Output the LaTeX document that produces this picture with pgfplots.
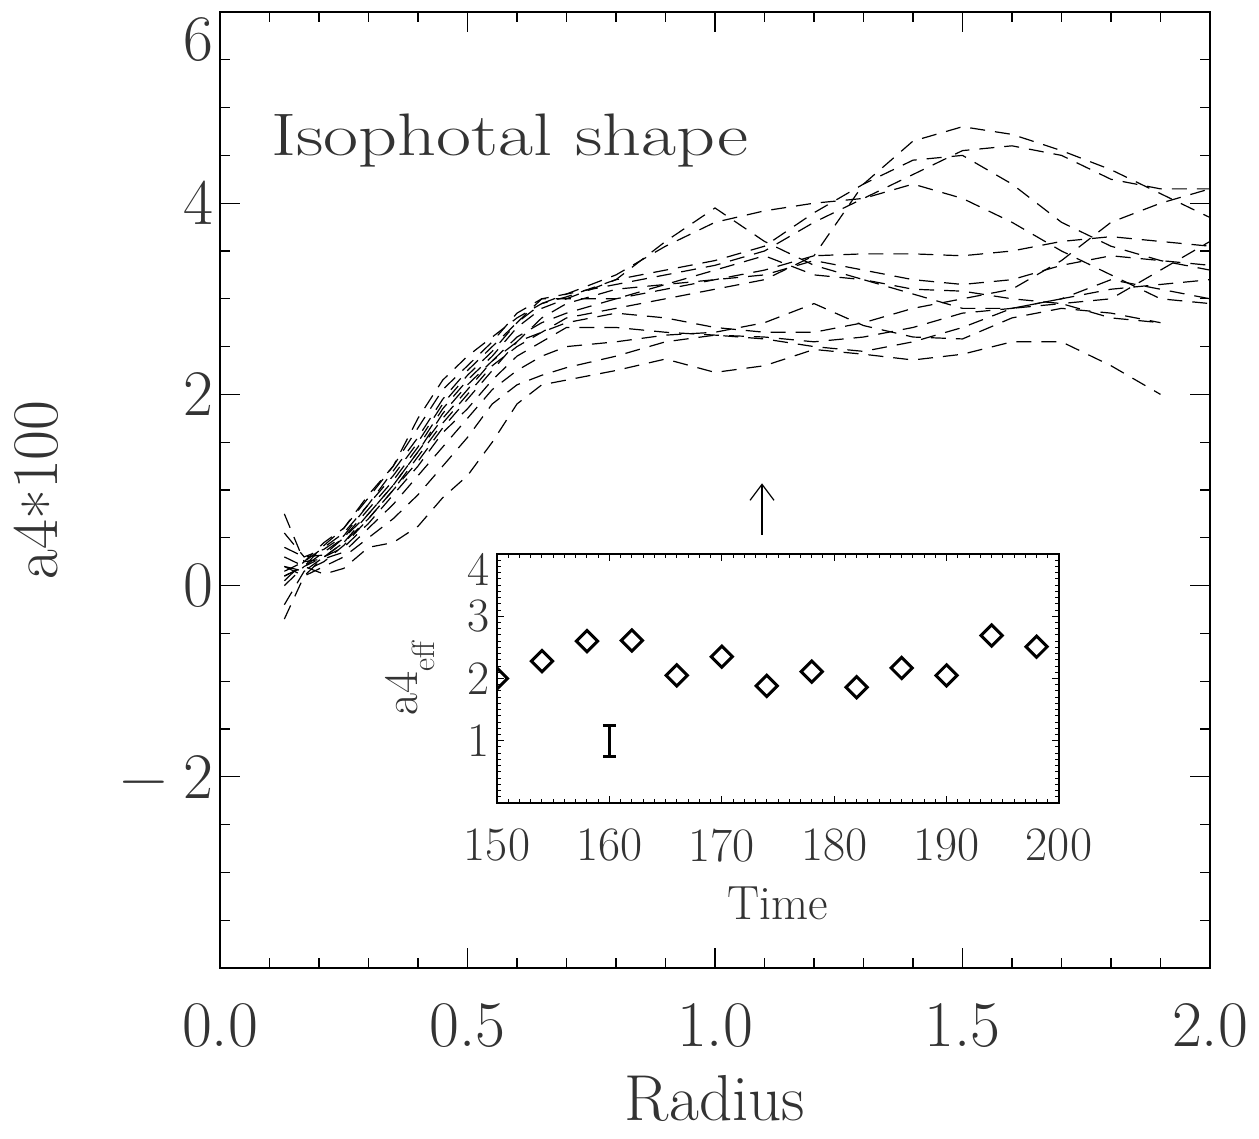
\documentclass[border=0pt]{standalone}
\usepackage{fontspec}
\usepackage{graphicx}
\usepackage{pgfplots}
\usepackage{pgfplotstable}
\pgfplotsset{compat=1.18}
\usetikzlibrary{arrows.meta}
\newcommand{\fmain}{\fontsize{32.5pt}{36pt}\selectfont}
\newcommand{\finset}{\fontsize{24pt}{28pt}\selectfont}
\newcommand{\fsub}{\fontsize{16pt}{18pt}\selectfont}
\newcommand{\fiso}{\fontsize{30pt}{34pt}\selectfont}

\pgfplotstableread{
r     c1    c2    c3    c4    c5    c6    c7    c8    c9    c10   c11   c12   c13
0.13  0.10 -0.35  0.75  0.00  0.20  0.40 -0.20  0.30  0.15  0.55  0.10  0.05  0.20
0.17  0.20  0.10  0.25  0.20  0.15  0.30  0.15  0.20  0.25  0.30  0.20  0.25  0.10
0.21  0.12  0.20  0.28  0.30  0.30  0.32  0.25  0.35  0.40  0.38  0.42  0.45  0.30
0.25  0.18  0.30  0.35  0.40  0.45  0.50  0.42  0.50  0.55  0.52  0.60  0.60  0.45
0.30  0.40  0.50  0.60  0.65  0.70  0.75  0.70  0.80  0.85  0.85  0.92  0.95  0.75
0.35  0.45  0.70  0.85  0.95  1.00  1.05  1.00  1.10  1.20  1.15  1.25  1.25  1.05
0.40  0.62  0.95  1.15  1.25  1.35  1.40  1.30  1.45  1.55  1.50  1.65  1.75  1.40
0.45  0.92  1.25  1.45  1.60  1.70  1.75  1.65  1.85  1.95  1.90  2.05  2.15  1.80
0.50  1.15  1.55  1.75  1.85  2.00  2.05  1.95  2.15  2.25  2.20  2.30  2.40  2.10
0.55  1.50  1.90  2.05  2.15  2.30  2.35  2.25  2.40  2.50  2.45  2.55  2.60  2.35
0.60  1.90  2.10  2.25  2.40  2.50  2.60  2.55  2.70  2.75  2.75  2.85  2.80  2.55
0.65  2.10  2.20  2.40  2.55  2.65  2.75  2.80  2.90  2.95  3.00  3.00  2.95  2.65
0.70  2.15  2.28  2.50  2.70  2.80  2.85  2.95  3.00  3.05  3.00  3.05  3.02  2.75
0.80  2.25  2.40  2.55  2.70  2.90  3.00  3.10  3.20  3.25  3.00  3.15  3.20  2.85
0.90  2.37  2.55  2.62  2.65  3.00  3.15  3.15  3.60  3.55  3.10  3.25  3.30  2.80
1.00  2.23  2.62  2.65  2.62  3.10  3.20  3.30  3.95  3.80  3.20  3.35  3.40  2.70
1.10  2.30  2.58  2.75  2.60  3.20  3.25  3.45  3.60  3.92  3.30  3.50  3.55  2.65
1.20  2.47  2.50  2.95  2.55  3.45  3.40  3.25  3.35  4.00  3.45  3.80  3.90  2.65
1.30  2.42  2.45  2.72  2.60  3.47  3.30  3.20  3.20  4.05  4.20  4.05  4.20  2.75
1.40  2.36  2.55  2.60  2.70  3.47  3.20  3.05  3.10  4.20  4.65  4.30  4.45  2.90
1.50  2.42  2.70  2.58  2.85  3.45  3.15  2.90  3.08  4.05  4.80  4.55  4.50  3.00
1.60  2.55  2.90  2.80  2.90  3.50  3.20  2.90  3.00  3.80  4.72  4.60  4.20  3.10
1.70  2.55  2.95  2.90  3.00  3.60  3.35  3.00  2.95  3.50  4.55  4.50  3.80  3.40
1.80  2.30  2.80  2.85  3.20  3.65  3.45  3.10  3.00  3.25  4.35  4.25  3.55  3.80
1.90  2.00  2.75  2.75  3.10  3.60  3.40  3.15  3.30  3.00  4.10  4.15  3.40  4.00
2.00  nan   nan   nan   3.00  3.55  3.35  3.20  3.60  2.95  3.85  4.15  3.30  4.15
}\curves

\begin{document}
\begin{tikzpicture}
\useasboundingbox (-110pt,-85.5pt) rectangle (519.5pt,484pt);
\begin{axis}[
  name=main, at={(0pt,0pt)}, anchor=south west,
  scale only axis, width=495pt, height=478pt,
  xmin=0, xmax=2, ymin=-4, ymax=6,
  xtick={0,0.5,1,1.5,2}, xticklabels={0.0,0.5,1.0,1.5,2.0},
  minor xtick={0,0.1,...,2},
  ytick={-4,-2,0,2,4,6}, yticklabels={,−\hspace{0.25em}2,0,2,4,\raisebox{-24.5pt}[0pt][0pt]{6}},
  minor ytick={-4,-3.5,...,6},
  tick align=inside,
  major tick length=10pt, minor tick length=5pt,
  every tick/.style={black, line width=0.6pt},
  axis line style={line width=0.75pt},
  ticklabel style={font=\fmain, text=black!80},
  xticklabel shift=14pt,
  xlabel={Radius}, ylabel={a4\raisebox{-0.2em}{*}100},
  xlabel style={at={(axis description cs:0.5,-0.1046)}, anchor=north, font=\fmain, text=black!80},
  ylabel style={at={(axis description cs:-0.1646,0.5)}, anchor=base, font=\fmain, text=black!80},
]
\pgfplotsinvokeforeach{c1,c2,c3,c4,c5,c6,c7,c8,c9,c10,c11,c12,c13}{
  \addplot[black, line width=0.6pt, dash pattern=on 7.5pt off 5pt] table[x=r, y=#1] {\curves};
}
\node[anchor=base west, inner sep=0pt, font=\fiso, text=black!80] at (axis cs:0.103,4.50) {\scalebox{1.27}[1]{Isophotal shape}};
\draw[black, line width=0.6pt, -{Straight Barb[length=8pt, width=12pt]}] (axis cs:1.095,0.53) -- (axis cs:1.095,1.07);
\end{axis}

\begin{axis}[
  at={(138.5pt,82.5pt)}, anchor=south west,
  scale only axis, width=281pt, height=124.5pt,
  xmin=150, xmax=200, ymin=0, ymax=4,
  xtick={150,160,...,200}, xticklabels={150,160,170,180,190,200},
  minor xtick={150,151,...,200},
  ytick={0,1,2,3,4}, yticklabels={,1,2,3,\raisebox{-15.7pt}[0pt][0pt]{4}},
  minor ytick={0,0.1,...,4},
  tick align=inside,
  major tick length=3.5pt, minor tick length=1.8pt,
  every tick/.style={black, line width=0.5pt},
  axis line style={line width=1pt},
  axis background/.style={fill=white},
  ticklabel style={font=\finset, text=black!80},
  xticklabel shift=9.5pt,
  clip marker paths=true,
  xlabel={Time}, ylabel={a4\raisebox{-0.35em}{\fsub eff}},
  xlabel style={at={(axis description cs:0.5,-0.307)}, anchor=north, font=\finset, text=black!80},
  ylabel style={at={(axis description cs:-0.1406,0.5)}, anchor=base, font=\finset, text=black!80},
]
\addplot[only marks, mark=square, mark size=3.75pt, mark options={rotate=45, line width=1.5pt, black, fill=none}] coordinates {
(150,2.00) (154,2.28) (158,2.60) (162,2.61) (166,2.05) (170,2.35) (174,1.88)
(178,2.11) (182,1.86) (186,2.17) (190,2.05) (194,2.69) (198,2.51)};
\addplot[draw=none, mark=none, forget plot,
  error bars/.cd, y dir=both, y explicit,
  error bar style={draw=black, solid, line width=1.5pt},
  error mark options={draw=black, rotate=90, mark size=3.25pt, line width=1.5pt}]
  coordinates {(160,0.99) +- (0,0.25)};
\end{axis}
\end{tikzpicture}
\end{document}
